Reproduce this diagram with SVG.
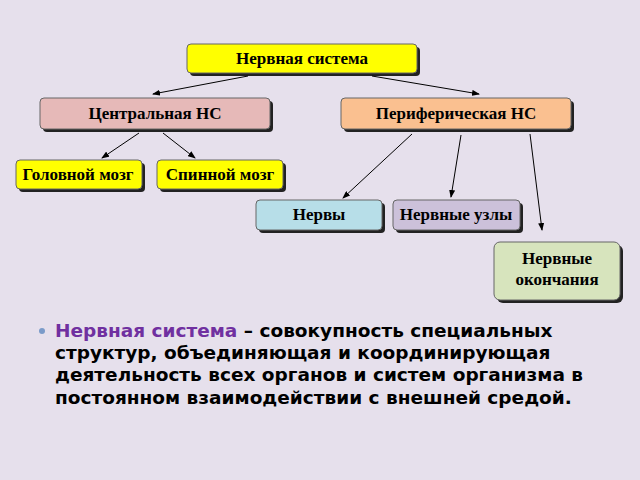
<svg xmlns="http://www.w3.org/2000/svg" width="640" height="480" viewBox="0 0 640 480">
<defs>
<marker id="ah" markerWidth="8" markerHeight="6" refX="7" refY="3" orient="auto" markerUnits="userSpaceOnUse"><path d="M0,0 L8,3 L0,6 Z" fill="#000"/></marker>
</defs>
<style>
.sh{fill:#222}
.bx{stroke:#666;stroke-width:1}
.t{font-family:"Liberation Serif",serif;font-weight:bold;font-size:17px;text-anchor:middle;fill:#000}
.c line{stroke:#000;stroke-width:1;marker-end:url(#ah)}
.p{font-family:"DejaVu Sans","Liberation Sans",sans-serif;font-weight:bold;font-size:18.5px;fill:#000}
</style>
<rect width="640" height="480" fill="#e6e0ec"/>
<g id="n1"><rect class="sh" x="190" y="47" width="230" height="29" rx="4"/><rect class="bx" x="187" y="44" width="230" height="29" rx="4" fill="#ffff00"/><text class="t" x="302" y="64">Нервная система</text></g>
<g id="n2"><rect class="sh" x="43" y="101" width="230" height="31" rx="4"/><rect class="bx" x="40" y="98" width="230" height="31" rx="4" fill="#e6b9b8"/><text class="t" x="155" y="119">Центральная НС</text></g>
<g id="n3"><rect class="sh" x="344" y="101" width="230" height="31" rx="4"/><rect class="bx" x="341" y="98" width="230" height="31" rx="4" fill="#fac090"/><text class="t" x="456" y="119">Периферическая НС</text></g>
<g id="n4"><rect class="sh" x="19" y="163" width="126" height="29" rx="4"/><rect class="bx" x="16" y="160" width="126" height="29" rx="4" fill="#ffff00"/><text class="t" x="78" y="180">Головной мозг</text></g>
<g id="n5"><rect class="sh" x="160" y="163" width="126" height="29" rx="4"/><rect class="bx" x="157" y="160" width="126" height="29" rx="4" fill="#ffff00"/><text class="t" x="220" y="180">Спинной мозг</text></g>
<g id="n6"><rect class="sh" x="259" y="203" width="126" height="30" rx="4"/><rect class="bx" x="256" y="200" width="126" height="30" rx="4" fill="#b7dee8"/><text class="t" x="319" y="220">Нервы</text></g>
<g id="n7"><rect class="sh" x="396" y="203" width="127" height="30" rx="4"/><rect class="bx" x="393" y="200" width="127" height="30" rx="4" fill="#ccc1da"/><text class="t" x="456" y="220">Нервные узлы</text></g>
<g id="n8"><rect class="sh" x="497" y="245" width="126" height="58" rx="6"/><rect class="bx" x="494" y="242" width="126" height="58" rx="6" fill="#d7e4bd"/><text class="t" x="557" y="264">Нервные</text><text class="t" x="557" y="285">окончания</text></g>
<g id="connectors" class="c">
<line x1="248" y1="76" x2="153" y2="94"/>
<line x1="372" y1="76" x2="479" y2="94"/>
<line x1="139" y1="133" x2="102" y2="158"/>
<line x1="163" y1="133" x2="195" y2="158"/>
<line x1="412" y1="134" x2="343" y2="198"/>
<line x1="461" y1="135" x2="451" y2="197"/>
<line x1="530" y1="134" x2="542" y2="230"/>
</g>
<g id="text">
<circle cx="42" cy="331" r="3" fill="#7b9bc9"/>
<text class="p" x="55" y="337"><tspan fill="#7030a0">Нервная система</tspan> – совокупность специальных</text>
<text class="p" x="55" y="359">структур, объединяющая и координирующая</text>
<text class="p" x="55" y="381">деятельность всех органов и систем организма в</text>
<text class="p" x="55" y="404">постоянном взаимодействии с внешней средой.</text>
</g>
</svg>
